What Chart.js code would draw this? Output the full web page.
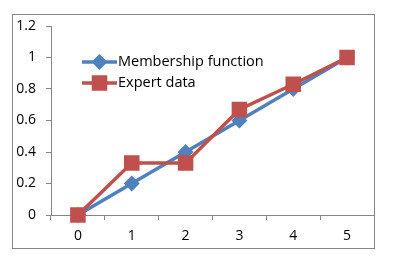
<!DOCTYPE html>
<html>
<head>
<meta charset="utf-8">
<script src="https://cdn.jsdelivr.net/npm/chart.js@4.4.0/dist/chart.umd.min.js"></script>
<style>
  html, body { margin: 0; padding: 0; background: #fff; }
  #wrap { width: 395px; height: 262px; position: relative; }
</style>
</head>
<body>
<div id="wrap"><canvas id="chart" width="395" height="262"></canvas></div>
<script>
const categories = ['0', '1', '2', '3', '4', '5'];
const membership = [0, 0.2, 0.4, 0.6, 0.8, 1];
const expert = [0, 0.33, 0.33, 0.67, 0.83, 1];
const y_ticks = [0, 0.2, 0.4, 0.6, 0.8, 1, 1.2];

const blue = '#4F81BD';
const red = '#C0504D';
const axis_grey = '#868686';
const font_family = "'Open Sans', sans-serif";

// outer frame + legend drawn inside the plot, like the spreadsheet chart
const frame_and_legend = {
  id: 'frame_and_legend',
  afterDraw: (chart) => {
    const ctx = chart.ctx;
    ctx.save();
    ctx.strokeStyle = axis_grey;
    ctx.lineWidth = 1;
    ctx.strokeRect(12.5, 14.5, 362, 234);

    const rows = [
      { label: 'Membership function', ds: chart.data.datasets[0], y: 62 },
      { label: 'Expert data', ds: chart.data.datasets[1], y: 83 }
    ];
    rows.forEach((r) => {
      ctx.strokeStyle = r.ds.borderColor;
      ctx.lineWidth = r.ds.borderWidth;
      ctx.beginPath();
      ctx.moveTo(82, r.y);
      ctx.lineTo(117, r.y);
      ctx.stroke();
      Chart.helpers.drawPoint(ctx, {
        pointStyle: r.ds.pointStyle,
        radius: r.ds.pointRadius,
        borderWidth: 1,
        rotation: 0
      }, 99.5, r.y);
      ctx.fillStyle = r.ds.pointBackgroundColor;
      ctx.strokeStyle = r.ds.pointBorderColor;
      ctx.fill();
      ctx.fillStyle = '#000';
      ctx.font = `14.5px ${font_family}`;
      ctx.textAlign = 'left';
      ctx.textBaseline = 'middle';
      ctx.fillText(r.label, 118, r.y);
    });
    ctx.restore();
  }
};

const config = {
  type: 'line',
  data: {
    labels: categories,
    datasets: [
      {
        label: 'Membership function',
        data: membership,
        borderColor: blue,
        backgroundColor: blue,
        pointBackgroundColor: blue,
        pointBorderColor: blue,
        borderWidth: 3.5,
        pointStyle: 'rectRot',
        pointRadius: 5.5,
        tension: 0,
        clip: false,
        order: 1
      },
      {
        label: 'Expert data',
        data: expert,
        borderColor: red,
        backgroundColor: red,
        pointBackgroundColor: red,
        pointBorderColor: red,
        borderWidth: 3.5,
        pointStyle: 'rect',
        pointRadius: 8.5,
        tension: 0,
        clip: false,
        order: 0
      }
    ]
  },
  options: {
    responsive: false,
    animation: false,
    layout: {
      padding: { left: 12, right: 21, top: 26, bottom: 14 }
    },
    scales: {
      x: {
        offset: true,
        grid: {
          offset: true,
          drawOnChartArea: false,
          drawTicks: true,
          tickLength: 5,
          color: axis_grey
        },
        border: { color: axis_grey, width: 1 },
        ticks: {
          color: '#000',
          padding: 8,
          maxRotation: 0,
          font: { family: font_family, size: 14 }
        },
        afterFit: (scale) => { scale.height = 33; }
      },
      y: {
        min: 0,
        max: 1.2,
        afterBuildTicks: (scale) => {
          scale.ticks = y_ticks.map((v) => ({ value: v }));
        },
        grid: {
          drawOnChartArea: false,
          drawTicks: true,
          tickLength: 5,
          color: axis_grey
        },
        border: { color: axis_grey, width: 1 },
        ticks: {
          color: '#000',
          padding: 10,
          font: { family: font_family, size: 14 },
          callback: (value) => String(Number(value.toFixed(1)))
        },
        afterFit: (scale) => { scale.width = 39; }
      }
    },
    plugins: {
      legend: { display: false },
      tooltip: { enabled: false }
    }
  },
  plugins: [frame_and_legend]
};

new Chart(document.getElementById('chart'), config);
</script>
</body>
</html>
